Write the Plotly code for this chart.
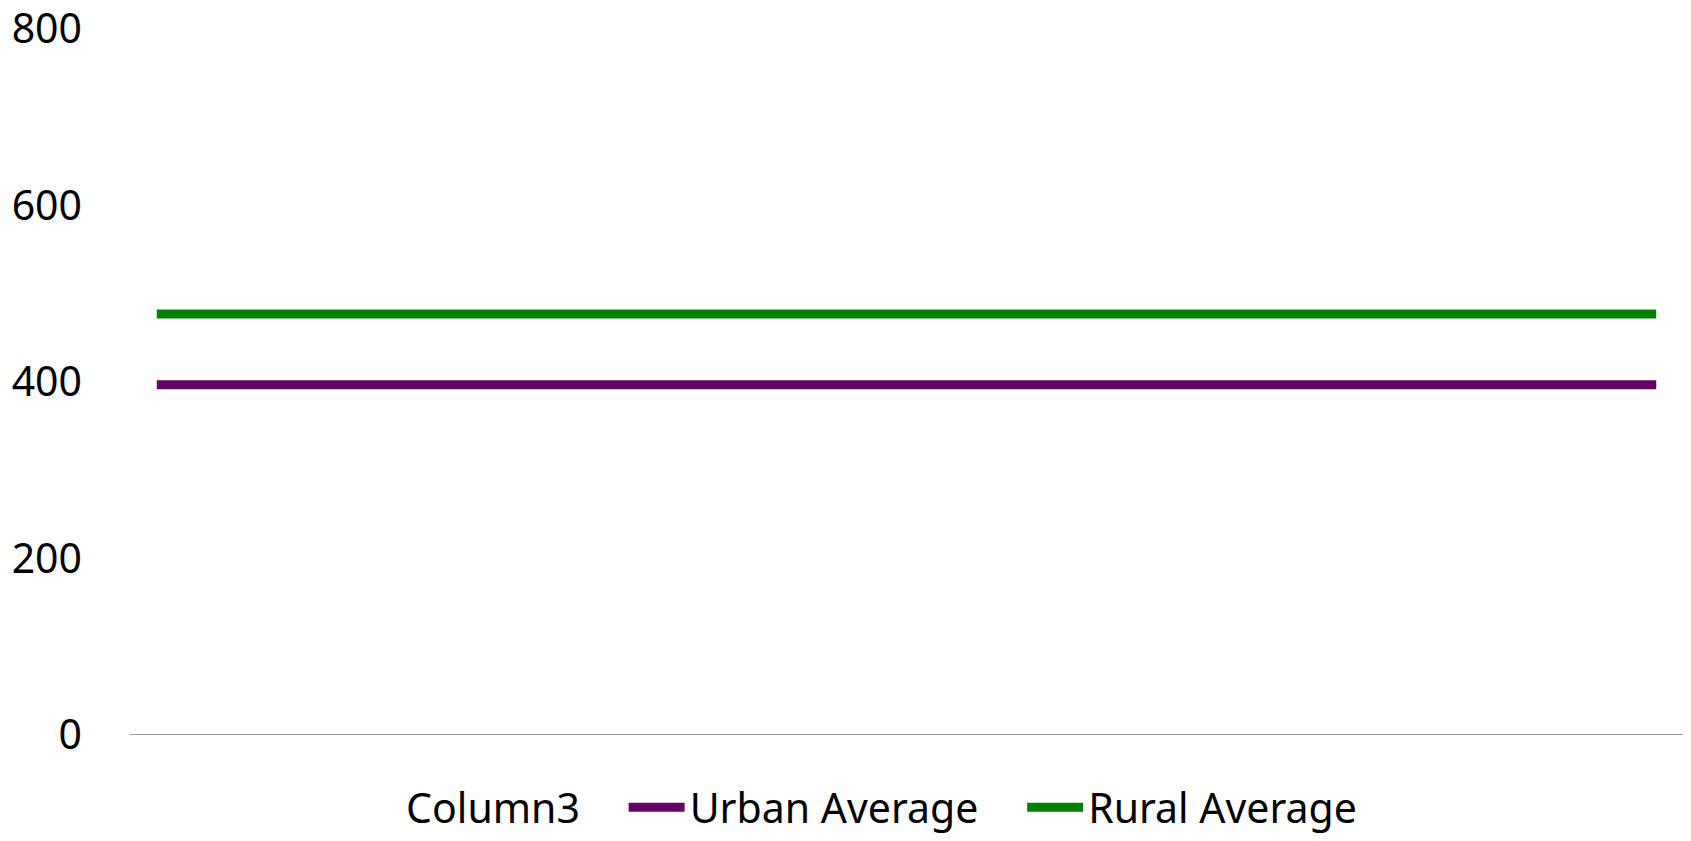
import plotly.graph_objects as go

categories = ["1", "2", "3", "4", "5", "6", "7", "8", "9", "10",
              "11", "12", "13", "14", "15", "16", "17", "18", "19", "20",
              "21", "22", "23", "24", "25", "26", "27", "28", "29"]
column3 = [None, None, None, None, None, None, None, None, None, None,
           None, None, None, None, None, None, None, None, None, None,
           None, None, None, None, None, None, None, None, None]
urban_average = [397, 397, 397, 397, 397, 397, 397, 397, 397, 397,
                 397, 397, 397, 397, 397, 397, 397, 397, 397, 397,
                 397, 397, 397, 397, 397, 397, 397, 397, 397]
rural_average = [477, 477, 477, 477, 477, 477, 477, 477, 477, 477,
                 477, 477, 477, 477, 477, 477, 477, 477, 477, 477,
                 477, 477, 477, 477, 477, 477, 477, 477, 477]
y_ticks = [0, 200, 400, 600, 800]

FONT = "Noto Sans"
GAP = "\u00a0\u00a0\u00a0\u2009"

fig = go.Figure()
fig.add_trace(go.Bar(x=categories, y=column3, name="Column3" + GAP,
                     marker=dict(color="rgba(0,0,0,0)",
                                 line=dict(width=0, color="rgba(0,0,0,0)")),
                     showlegend=True, hoverinfo="skip"))
fig.add_trace(go.Scatter(x=categories, y=urban_average, name="Urban Average" + GAP,
                         mode="lines", line=dict(color="#660066", width=9)))
fig.add_trace(go.Scatter(x=categories, y=rural_average, name="Rural Average",
                         mode="lines", line=dict(color="#008000", width=9)))

fig.update_layout(
    width=1691, height=841,
    margin=dict(l=130, r=8, t=29, b=106, autoexpand=False),
    paper_bgcolor="white", plot_bgcolor="white",
    font=dict(family=FONT, size=41, color="black"),
    showlegend=True,
    legend=dict(orientation="h", xref="container", yref="container",
                x=0.5033, xanchor="center", y=0, yanchor="bottom",
                font=dict(family=FONT, size=41, color="black"),
                itemwidth=56, traceorder="normal",
                bgcolor="rgba(0,0,0,0)"),
    xaxis=dict(type="category", showticklabels=False, showgrid=False,
               showline=False, zeroline=False, ticks="", automargin=False,
               range=[-0.5, len(categories) - 0.5]),
    yaxis=dict(range=[0, 800], tickvals=y_ticks, showgrid=False,
               zeroline=False, showline=False, ticks="", automargin=False,
               ticklabelstandoff=47, ticklabeloverflow="allow",
               tickfont=dict(family=FONT, size=41, color="black")),
    shapes=[dict(type="line", xref="paper", yref="y", x0=0, x1=1, y0=0, y1=0,
                 line=dict(color="#999999", width=2))],
)

fig.write_html("out.html", config={"displayModeBar": False},
               post_script="document.body.style.margin='0';document.body.style.overflow='hidden';")
